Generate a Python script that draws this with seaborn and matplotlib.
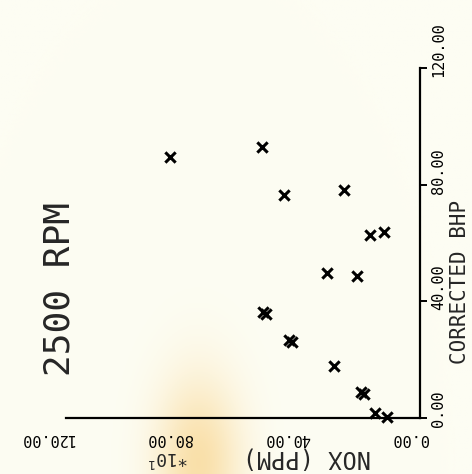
import matplotlib
matplotlib.use('Agg')
import matplotlib.pyplot as plt
from matplotlib.transforms import ScaledTranslation
import numpy as np
import seaborn as sns

# NOX readings (PPM, in units of 10^1) against corrected brake horsepower, 2500 RPM
nox = [84.9, 53.4, 46.2, 25.7, 17.1, 12.3, 31.5, 21.2,
       53.2, 52.2, 44.3, 43.3, 29.1, 20.0, 19.0, 15.4, 11.3]
bhp = [89.4, 92.8, 76.4, 78.1, 62.7, 63.7, 49.7, 48.6,
       36.2, 35.6, 26.6, 26.0, 17.8, 8.8, 8.3, 1.7, 0.3]

ticks = [0, 40, 80, 120]
title = '2500 RPM'
xlabel = 'NOX (PPM)'
ylabel = 'CORRECTED BHP'
scale_note = '*10$^{1}$'

paper = '#fdfdf3'
sns.set_style('white')
plt.rcParams['font.family'] = ['DejaVu Sans Mono', 'DejaVu Sans']

fig = plt.figure(figsize=(4.72, 4.74), dpi=100, facecolor=paper)

# faint stain on the scanned page
bg = fig.add_axes([0, 0, 1, 1], zorder=-5)
gx, gy = np.meshgrid(np.linspace(0, 1, 200), np.linspace(0, 1, 200))
stain = np.exp(-(((gx - 0.42) / 0.09) ** 2 + ((gy - 0.02) / 0.18) ** 2))
rgb = np.ones((200, 200, 3)) * np.array([253, 253, 243]) / 255
tint = np.array([247, 200, 110]) / 255
rgb = rgb * (1 - 0.55 * stain[..., None]) + tint * 0.55 * stain[..., None]
bg.imshow(rgb, origin='lower', extent=[0, 1, 0, 1], aspect='auto')
bg.axis('off')

ax = fig.add_axes([66 / 472, 56 / 474, 354 / 472, 350 / 474])
ax.patch.set_alpha(0)

sns.scatterplot(x=nox, y=bhp, marker='x', color='black', s=55,
                linewidth=2.2, ax=ax, clip_on=False)

ax.set_xlim(120, 0)
ax.set_ylim(0, 120)
ax.set_xticks(ticks)
ax.set_yticks(ticks)

for side in ['top', 'left']:
    ax.spines[side].set_visible(False)
for side in ['bottom', 'right']:
    ax.spines[side].set_color('black')
    ax.spines[side].set_linewidth(1.6)

ax.yaxis.tick_right()
ax.tick_params(axis='both', direction='out', length=5, width=1.4, colors='black')
ax.tick_params(axis='y', pad=3, labelsize=11)
ax.tick_params(axis='x', pad=4, labelsize=11)

# plotter style: labels start at the tick and run away from it
ax.set_xticklabels([f'{t:.2f}' for t in ticks], rotation=180, ha='right')
ax.set_yticklabels([f'{t:.2f}' for t in ticks], rotation=90, va='bottom')
for lab in ax.get_xticklabels():
    lab.set_transform(lab.get_transform() + ScaledTranslation(0.08, 0, fig.dpi_scale_trans))
for lab in ax.get_yticklabels():
    lab.set_transform(lab.get_transform() + ScaledTranslation(0, -0.09, fig.dpi_scale_trans))

ax.set_xlabel(xlabel, fontsize=17, rotation=180, ha='center', va='center')
ax.xaxis.set_label_coords(0.681, -0.114)
ax.yaxis.set_label_position('right')
ax.set_ylabel(ylabel, fontsize=15, rotation=90, ha='center', va='center')
ax.yaxis.set_label_coords(1.113, 0.39)

ax.text(0.288, -0.111, scale_note, transform=ax.transAxes, fontsize=13,
        rotation=180, ha='center', va='center')
ax.text(0.03, 0.369, title, transform=ax.transAxes, fontsize=26,
        rotation=90, ha='right', va='center')

fig.savefig('out.png', dpi=100, facecolor=paper)
